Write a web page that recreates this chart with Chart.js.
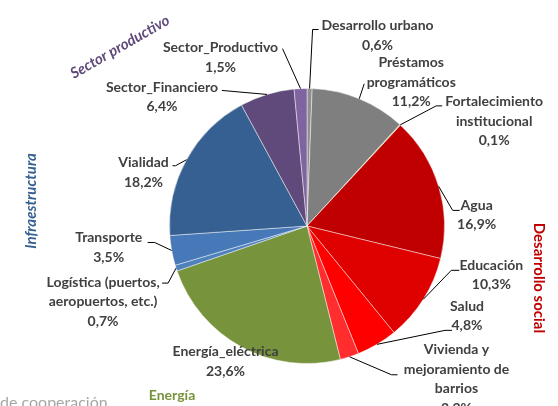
<!DOCTYPE html>
<html>
<head>
<meta charset="utf-8">
<script src="https://cdn.jsdelivr.net/npm/chart.js@4.4.1/dist/chart.umd.min.js"></script>
<style>
  html, body { margin: 0; padding: 0; background: #fff; }
  #wrap { width: 558px; height: 406px; position: relative; }
</style>
</head>
<body>
<div id="wrap"><canvas id="pie" width="558" height="406"></canvas></div>
<script>
// --- DATOS ---
const categories = [
  'Desarrollo urbano', 'Préstamos programáticos', 'Fortalecimiento institucional',
  'Agua', 'Educación', 'Salud', 'Vivienda y mejoramiento de barrios',
  'Energía_eléctrica', 'Logística (puertos, aeropuertos, etc.)', 'Transporte',
  'Vialidad', 'Sector_Financiero', 'Sector_Productivo'
];
const shares = [0.6, 11.2, 0.1, 16.9, 10.3, 4.8, 2.2, 23.6, 0.7, 3.5, 18.2, 6.4, 1.5];

// texto de cada etiqueta, linea por linea
const labelLines = [
  ['Desarrollo urbano'],
  ['Préstamos', 'programáticos'],
  ['Fortalecimiento', 'institucional'],
  ['Agua'],
  ['Educación'],
  ['Salud'],
  ['Vivienda y', 'mejoramiento de', 'barrios'],
  ['Energía_eléctrica'],
  ['Logística (puertos,', 'aeropuertos, etc.)'],
  ['Transporte'],
  ['Vialidad'],
  ['Sector_Financiero'],
  ['Sector_Productivo']
];

// grupos (textos girados alrededor del pastel)
const groupNames = ['Sector productivo', 'Infraestructura', 'Desarrollo social', 'Energía'];

// --- ESTILO ---
const sliceColors = [
  '#8f8f8f', '#7f7f7f', '#9bbb59', '#c00000', '#df0000', '#ff0000', '#ff2d2d',
  '#77933c', '#4f81bd', '#4779b8', '#376092', '#604a7b', '#8064a2'
];

// posicion de la etiqueta respecto al borde del sector (centro de la 1a linea)
const labelOffsets = [
  [68, -63], [52, -36], [94, -23], [38, 19], [68, -34], [90, -38], [107, -7],
  [-16, 5], [-73, 14], [-63, -13], [-43, 3], [-105, -7], [-80, -41]
];
// quiebres de la linea guia, relativos al borde del sector
const leaderPoints = [
  [[3, -59], [9, -59]],
  [[5, -15]],
  [[36, -19], [42, -19]],
  [[14, 24], [21, 24]],
  [[28, -29], [36, -29]],
  [[68, -14], [75, -14]],
  [[42, 18], [48, 18]],
  [],
  [[-8, 15], [-14, 15]],
  [[-17, -8], [-24, -8]],
  [[-11, 6], [-14, 6]],
  [[-45, -4]],
  [[-18, -40]]
];

const LINE_H = 19.5;
const LABEL_FONT = 'bold 14px Lato, "Open Sans", sans-serif';

function pct(v) {
  return v.toFixed(1).replace('.', ',') + '%';
}

const outsideLabels = {
  id: 'outsideLabels',
  afterDraw(chart) {
    const ctx = chart.ctx;
    const arcs = chart.getDatasetMeta(0).data;
    ctx.save();

    arcs.forEach((arc, i) => {
      const mid = (arc.startAngle + arc.endAngle) / 2;
      const ex = arc.x + Math.cos(mid) * arc.outerRadius;
      const ey = arc.y + Math.sin(mid) * arc.outerRadius;

      // linea guia
      const pts = leaderPoints[i];
      if (pts.length) {
        ctx.beginPath();
        ctx.strokeStyle = '#000';
        ctx.lineWidth = 1;
        ctx.moveTo(ex, ey);
        pts.forEach(p => ctx.lineTo(ex + p[0], ey + p[1]));
        ctx.stroke();
      }

      // texto
      const lx = ex + labelOffsets[i][0];
      const ly = ey + labelOffsets[i][1];
      const lines = labelLines[i].concat([pct(shares[i])]);
      ctx.font = LABEL_FONT;
      ctx.fillStyle = '#404040';
      ctx.textAlign = 'center';
      ctx.textBaseline = 'middle';
      lines.forEach((t, k) => ctx.fillText(t, lx, ly + k * LINE_H));
    });

    // nombres de grupos
    const drawRot = (txt, x, y, ang, font, color) => {
      ctx.save();
      ctx.translate(x, y);
      ctx.rotate(ang);
      ctx.font = font;
      ctx.fillStyle = color;
      ctx.textAlign = 'center';
      ctx.textBaseline = 'middle';
      ctx.fillText(txt, 0, 0);
      ctx.restore();
    };
    drawRot(groupNames[0], 120, 47, -Math.PI / 6, 'italic bold 15px Lato, sans-serif', '#604a7b');
    drawRot(groupNames[1], 31, 201, -Math.PI / 2, 'italic bold 15px Lato, sans-serif', '#376092');
    drawRot(groupNames[2], 539, 278, Math.PI / 2, 'bold 15px Lato, sans-serif', '#c00000');
    drawRot(groupNames[3], 172, 395, 0, 'bold 14px Lato, sans-serif', '#77933c');

    // texto cortado en la esquina inferior
    ctx.font = '16px Lato, sans-serif';
    ctx.fillStyle = '#a6a6a6';
    ctx.textAlign = 'left';
    ctx.textBaseline = 'alphabetic';
    ctx.fillText('de cooperación', 0, 408);

    ctx.restore();
  }
};

new Chart(document.getElementById('pie'), {
  type: 'pie',
  data: {
    labels: categories,
    datasets: [{
      data: shares,
      backgroundColor: sliceColors,
      borderColor: 'rgba(255,255,255,0.45)',
      borderWidth: 1
    }]
  },
  options: {
    responsive: false,
    animation: false,
    layout: { padding: { left: 169, right: 113, top: 87, bottom: 41 } },
    plugins: {
      legend: { display: false },
      tooltip: { enabled: false }
    }
  },
  plugins: [outsideLabels]
});
</script>
</body>
</html>
